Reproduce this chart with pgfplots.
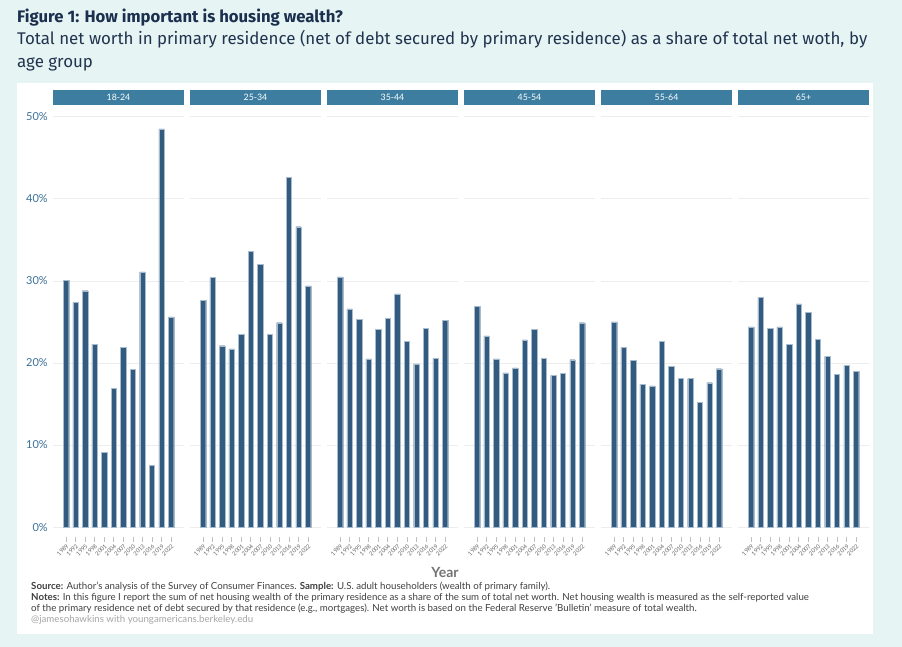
\documentclass[border=0pt]{standalone}
\usepackage{pgfplots}
\usepackage{pgfplotstable}
\pgfplotsset{compat=1.18}
\usepackage{fontspec}
\setmainfont{Lato}
\newfontfamily\titlefont{Fira Sans}

\definecolor{bgteal}{HTML}{E6F5F4}
\definecolor{barblue}{HTML}{335B80}
\definecolor{baredge}{HTML}{A8BCD0}
\definecolor{stripblue}{HTML}{3D7DA0}
\definecolor{ylab}{HTML}{3B7098}
\definecolor{titlenavy}{HTML}{1B2F4E}
\definecolor{subgray}{HTML}{22334F}

% share of net worth in primary residence, by age group (%)
\pgfplotstableread{
x year  a1824 a2534 a3544 a4554 a5564 a65
0  1989 30.1  27.6  30.5  26.9  25.0  24.4
1  1992 27.4  30.4  26.6  23.3  21.9  28.0
2  1995 28.8  22.1  25.3  20.5  20.3  24.2
3  1998 22.3  21.7  20.5  18.8  17.4  24.4
4  2001  9.1  23.5  24.1  19.4  17.2  22.3
5  2004 16.9  33.6  25.4  22.8  22.6  27.2
6  2007 21.9  32.0  28.4  24.1  19.6  26.2
7  2010 19.2  23.5  22.6  20.6  18.1  22.9
8  2013 31.1  24.9  19.9  18.5  18.1  20.8
9  2016  7.5  42.6  24.2  18.7  15.2  18.6
10 2019 48.5  36.6  20.6  20.4  17.6  19.7
11 2022 25.6  29.4  25.2  24.9  19.3  19.0
}\data

\pgfplotsset{
  panel/.style={
    scale only axis, width=131pt, height=431pt, anchor=south west,
    clip=false,
    xmin=-1.36, xmax=12.36, ymin=-1.2, ymax=51.3,
    axis line style={draw=none},
    ytick={0,10,...,50}, ymajorgrids,
    grid style={color=black!7, line width=0.6pt},
    ytick style={draw=none}, yticklabels={},
    xtick={0,...,11},
    xticklabels={1989,1992,1995,1998,2001,2004,2007,2010,2013,2016,2019,2022},
    xtick pos=bottom, tick align=outside, major tick length=5pt,
    xtick style={black!25, line width=0.5pt},
    x tick label style={rotate=45, anchor=north east, inner sep=1pt,
      font=\fontsize{5.8}{6}\selectfont, text=black!60},
  },
  strip/.style={
    after end axis/.append code={
      \fill[stripblue] ([yshift=0.5pt]rel axis cs:0,1) rectangle ([yshift=16pt]rel axis cs:1,1);
      \node[text=white, font=\fontsize{8.8}{9}\selectfont] at ([yshift=8.2pt]rel axis cs:0.5,1) {#1};
    }
  },
  bars/.style={ybar, bar width=0.56, fill=barblue, draw=baredge, line width=0.3pt},
}

\begin{document}
\begin{tikzpicture}
\fill[bgteal] (0,0) rectangle (902pt,647pt);
\fill[white] (17pt,13pt) rectangle (873pt,564pt);

\node[anchor=base west, inner sep=0pt, text=titlenavy, font=\titlefont\fontsize{16.7}{18}\selectfont\bfseries]
  at (17pt,624pt) {Figure 1: How important is housing wealth?};
\node[anchor=base west, inner sep=0pt, text=subgray, font=\titlefont\fontsize{16.9}{18}\selectfont]
  at (17pt,602pt) {Total net worth in primary residence (net of debt secured by primary residence) as a share of total net woth, by};
\node[anchor=base west, inner sep=0pt, text=subgray, font=\titlefont\fontsize{16.9}{18}\selectfont]
  at (17pt,579pt) {age group};

\begin{axis}[panel, strip={18-24}, at={(53pt,110pt)},
  yticklabels={0\%,10\%,20\%,30\%,40\%,50\%},
  y tick label style={text=ylab, font=\fontsize{11}{11}\selectfont, inner sep=0pt, xshift=0pt}]
\addplot[bars] table[x=x, y=a1824] {\data};
\end{axis}

\begin{axis}[panel, strip={25-34}, at={(190pt,110pt)}]
\addplot[bars] table[x=x, y=a2534] {\data};
\end{axis}

\begin{axis}[panel, strip={35-44}, at={(327pt,110pt)}]
\addplot[bars] table[x=x, y=a3544] {\data};
\end{axis}

\begin{axis}[panel, strip={45-54}, at={(464pt,110pt)}]
\addplot[bars] table[x=x, y=a4554] {\data};
\end{axis}

\begin{axis}[panel, strip={55-64}, at={(601pt,110pt)}]
\addplot[bars] table[x=x, y=a5564] {\data};
\end{axis}

\begin{axis}[panel, strip={65+}, at={(738pt,110pt)}]
\addplot[bars] table[x=x, y=a65] {\data};
\end{axis}

\node[text=black!55, font=\fontsize{14}{14}\selectfont\bfseries] at (445pt,75pt) {Year};

\begin{scope}[every node/.style={anchor=base west, inner sep=0pt, text=black!75, font=\fontsize{9.7}{10}\selectfont}]
\node at (31pt,57pt) {\textbf{Source:} Author's analysis of the Survey of Consumer Finances. \textbf{Sample:} U.S. adult householders (wealth of primary family).};
\node at (31pt,46pt) {\textbf{Notes:} In this figure I report the sum of net housing wealth of the primary residence as a share of the sum of total net worth. Net housing wealth is measured as the self-reported value};
\node at (31pt,35pt) {of the primary residence net of debt secured by that residence (e.g., mortgages). Net worth is based on the Federal Reserve 'Bulletin' measure of total wealth.};
\node[text=black!35] at (31pt,24pt) {@jamesohawkins with youngamericans.berkeley.edu};
\end{scope}

\pgfresetboundingbox
\path (0,0) rectangle (902pt,647pt);
\end{tikzpicture}
\end{document}
